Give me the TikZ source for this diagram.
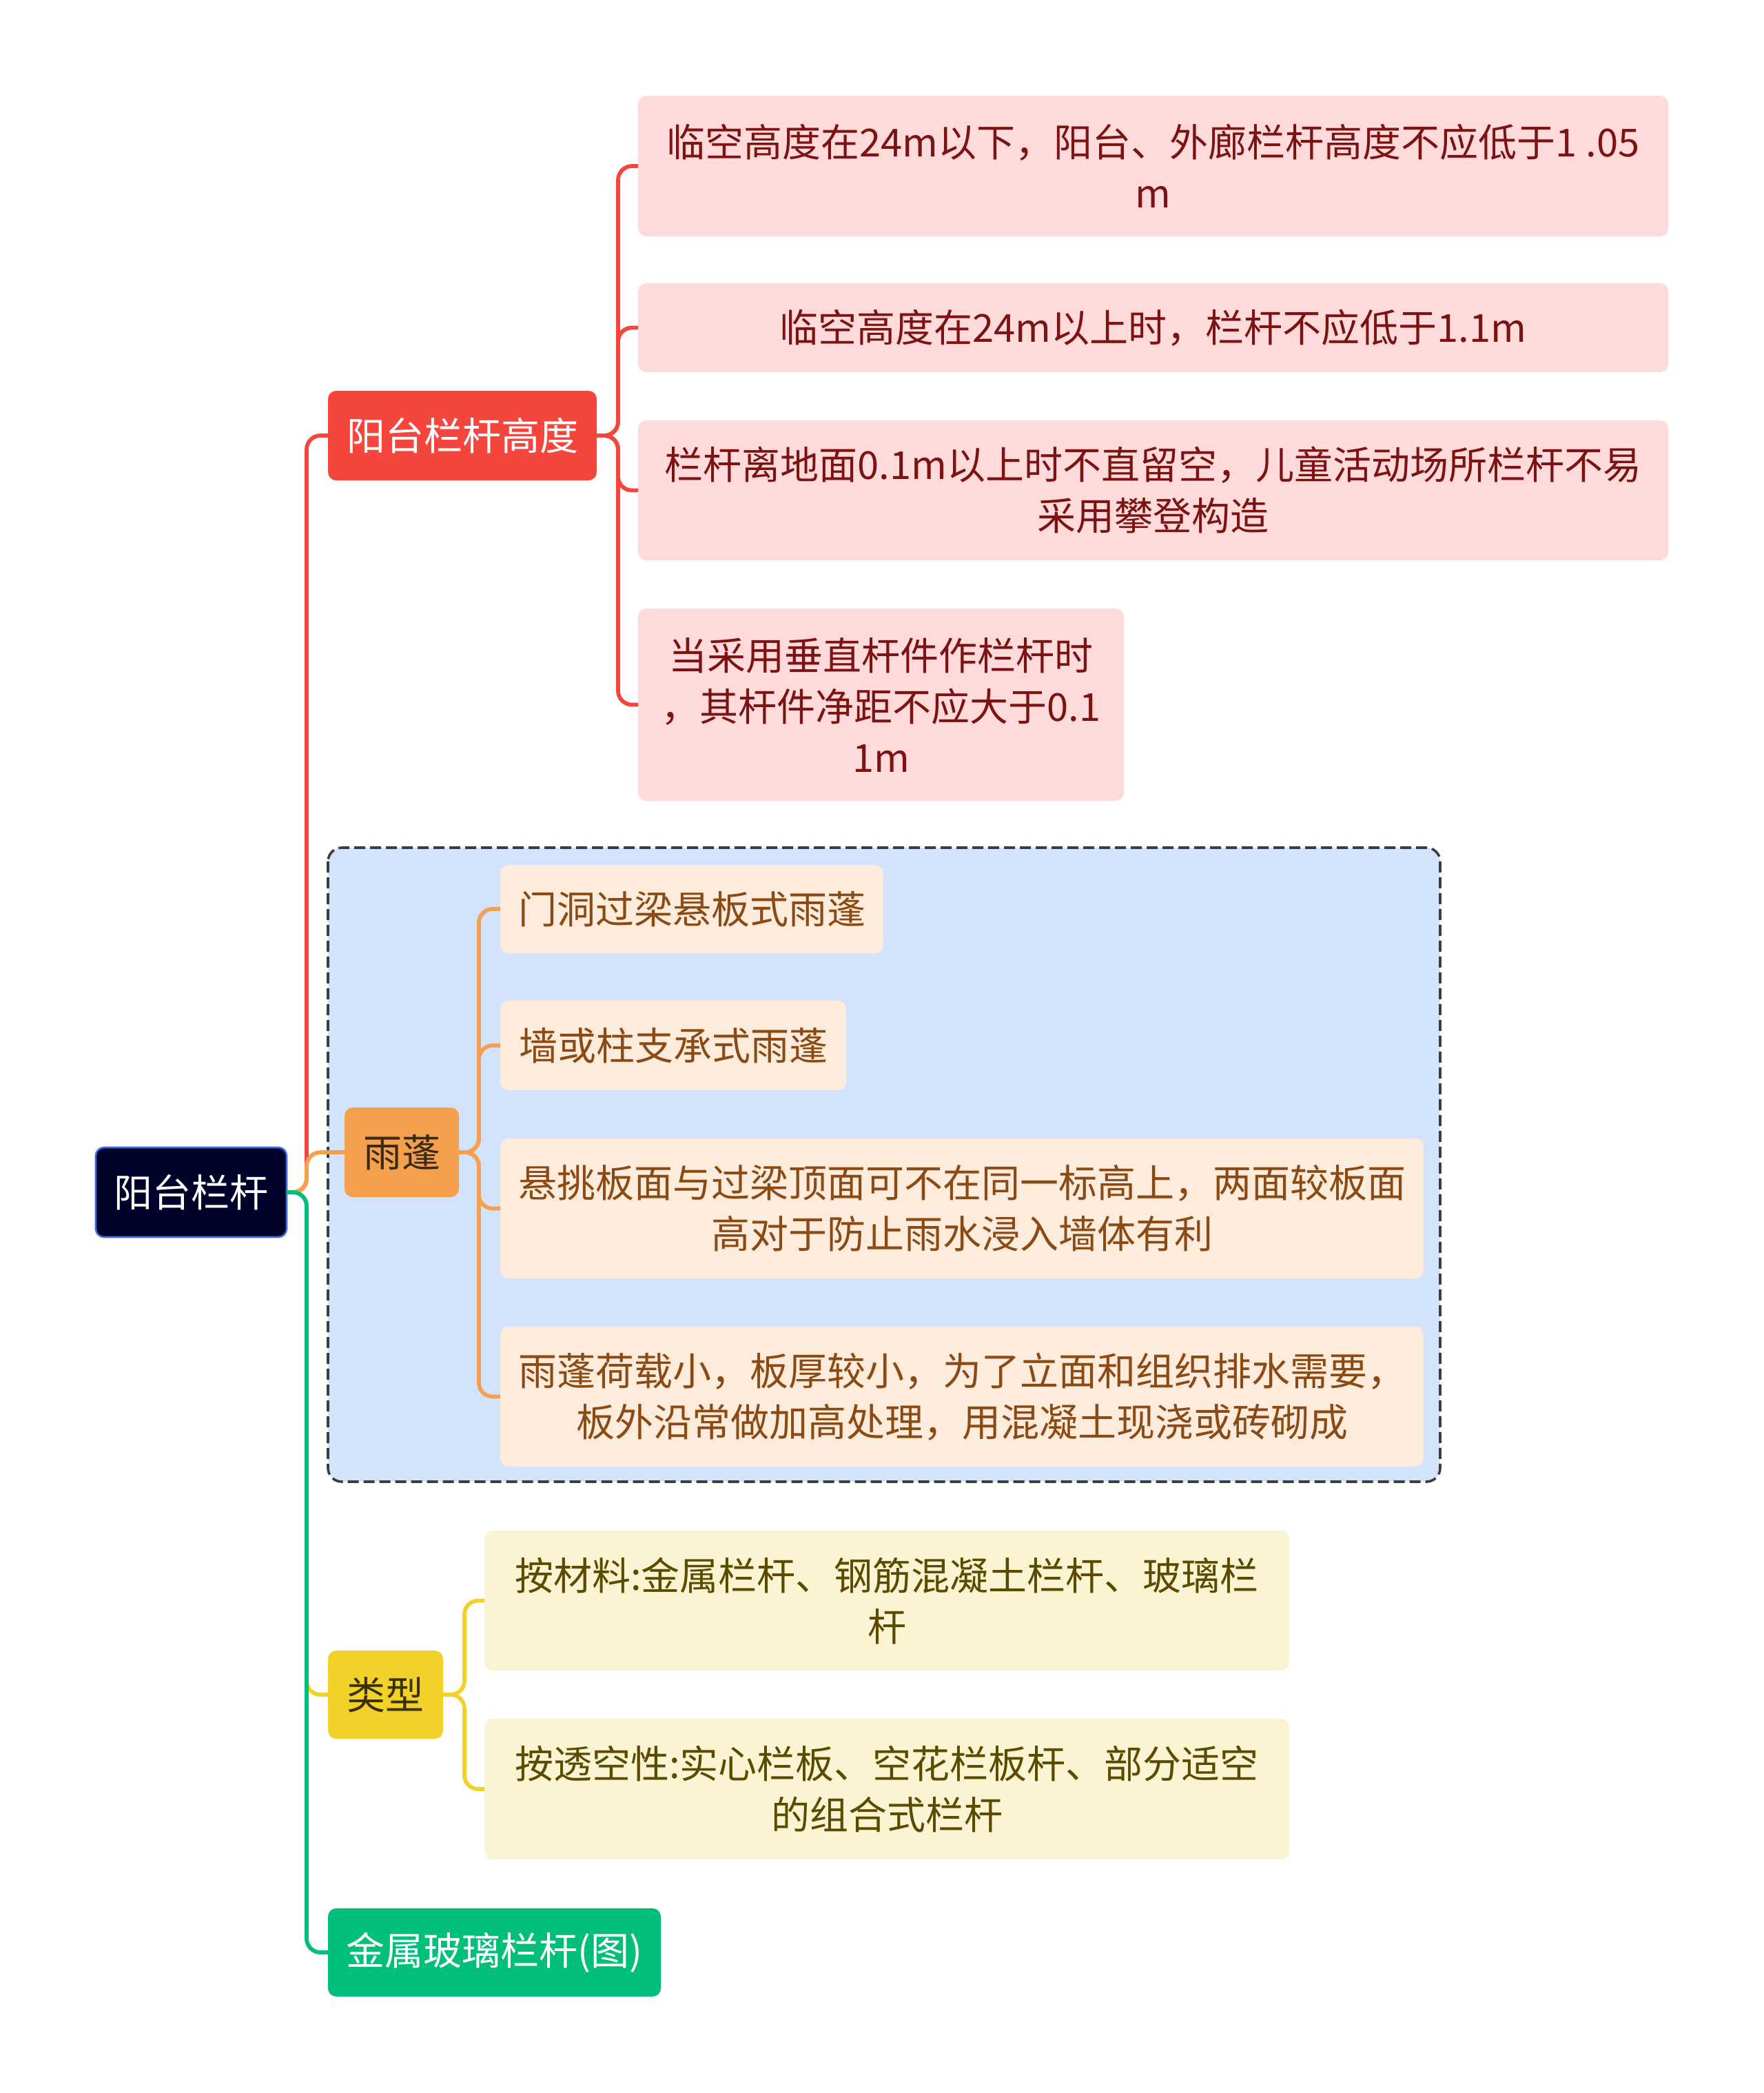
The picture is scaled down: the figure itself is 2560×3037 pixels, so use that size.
\documentclass[tikz,border=0pt]{standalone}
\usepackage{fontspec}
\setmainfont{Noto Sans CJK SC}
\definecolor{cRed}{HTML}{F5463E}
\definecolor{cRedL}{HTML}{FEDADA}
\definecolor{cRedT}{HTML}{7D1212}
\definecolor{cOr}{HTML}{F5A04C}
\definecolor{cOrL}{HTML}{FDEBDB}
\definecolor{cOrT}{HTML}{8B4A14}
\definecolor{cOrTT}{HTML}{3A2A14}
\definecolor{cBlueBg}{HTML}{D4E3FC}
\definecolor{cDash}{HTML}{3A3D42}
\definecolor{cYe}{HTML}{F2D22A}
\definecolor{cYeL}{HTML}{FBF4D2}
\definecolor{cYeT}{HTML}{5A4B00}
\definecolor{cYeTT}{HTML}{3A3000}
\definecolor{cGr}{HTML}{00BF7B}
\definecolor{cRoot}{HTML}{000229}
\definecolor{cRootB}{HTML}{3A6BE0}
\begin{document}
\begin{tikzpicture}[x=0.5pt,y=-0.5pt,
  every node/.style={inner sep=0pt,outer sep=0pt,align=center,font=\fontsize{28pt}{37pt}\selectfont},
  box/.style={rectangle,rounded corners=6pt},
  rootbox/.style={box,fill=cRoot,draw=cRootB,line width=1.3pt,text=white},
  redbox/.style={box,fill=cRed,text=white},
  redleaf/.style={box,fill=cRedL,text=cRedT},
  orbox/.style={box,fill=cOr,text=cOrTT},
  orleaf/.style={box,fill=cOrL,text=cOrT},
  yebox/.style={box,fill=cYe,text=cYeTT},
  yeleaf/.style={box,fill=cYeL,text=cYeT},
  grbox/.style={box,fill=cGr,text=white},
  conn/.style={line width=2.9pt,rounded corners=10pt},
]
\useasboundingbox (0,0) rectangle (2560,3037);
\fill[white] (0,0) rectangle (2560,3037);

% dashed group box
\draw[fill=cBlueBg,draw=cDash,line width=1.8pt,dash pattern=on 8pt off 3.5pt,rounded corners=10pt]
  (476,1230) rectangle (2090,2150);

% nodes
\node[rootbox,minimum width=138.5pt,minimum height=65pt] (root) at (277.5,1730) {阳台栏杆};

\node[redbox,minimum width=195pt,minimum height=65pt] (A) at (671,632) {阳台栏杆高度};
\node[redleaf,minimum width=747.5pt,minimum height=102pt] (A1) at (1673.5,241) {临空高度在24m以下，阳台、外廊栏杆高度不应低于1 .05\\m};
\node[redleaf,minimum width=747.5pt,minimum height=64.5pt] (A2) at (1673.5,475.5) {临空高度在24m以上时，栏杆不应低于1.1m};
\node[redleaf,minimum width=747.5pt,minimum height=101.5pt] (A3) at (1673.5,711.5) {栏杆离地面0.1m以上时不直留空，儿童活动场所栏杆不易\\采用攀登构造};
\node[redleaf,minimum width=352.5pt,minimum height=139.5pt] (A4) at (1278.5,1022.5) {当采用垂直杆件作栏杆时\\，其杆件净距不应大于0.1\\1m};

\node[orbox,minimum width=83pt,minimum height=65pt] (B) at (583,1672) {雨蓬};
\node[orleaf,minimum width=278pt,minimum height=64pt] (B1) at (1004,1319) {门洞过梁悬板式雨蓬};
\node[orleaf,minimum width=251pt,minimum height=65pt] (B2) at (977,1517) {墙或柱支承式雨蓬};
\node[orleaf,minimum width=670pt,minimum height=101.5pt] (B3) at (1396,1753.5) {悬挑板面与过梁顶面可不在同一标高上，两面较板面\\高对于防止雨水浸入墙体有利};
\node[orleaf,minimum width=670pt,minimum height=101.5pt] (B4) at (1396,2026.5) {雨蓬荷载小，板厚较小，为了立面和组织排水需要，\\板外沿常做加高处理，用混凝土现浇或砖砌成};

\node[yebox,minimum width=83.5pt,minimum height=64pt] (C) at (559.5,2459) {类型};
\node[yeleaf,minimum width=584pt,minimum height=101.5pt] (C1) at (1287,2322.5) {按材料:金属栏杆、钢筋混凝土栏杆、玻璃栏\\杆};
\node[yeleaf,minimum width=584pt,minimum height=102pt] (C2) at (1287,2596) {按透空性:实心栏板、空花栏板杆、部分适空\\的组合式栏杆};

\node[grbox,minimum width=241.5pt,minimum height=64pt] (D) at (717.5,2833) {金属玻璃栏杆(图)};

% spine coordinates
\coordinate (s0) at (445,1730);
\coordinate (sA) at (897,632);
\coordinate (sB) at (695,1672);
\coordinate (sC) at (674,2459);

% level 1 connectors
\draw[conn,cRed] (root.east) -- (s0) |- (A.west);
\draw[conn,cOr] (root.east) -- (s0) |- (B.west);
\draw[conn,cYe] (root.east) -- (s0) |- (C.west);
\draw[conn,cGr] (root.east) -- (s0) |- (D.west);

% level 2 connectors
\foreach \n in {A1,A2,A3,A4} \draw[conn,cRed] (A.east) -- (sA) |- (\n.west);
\foreach \n in {B1,B2,B3,B4} \draw[conn,cOr] (B.east) -- (sB) |- (\n.west);
\foreach \n in {C1,C2} \draw[conn,cYe] (C.east) -- (sC) |- (\n.west);
\end{tikzpicture}
\end{document}
